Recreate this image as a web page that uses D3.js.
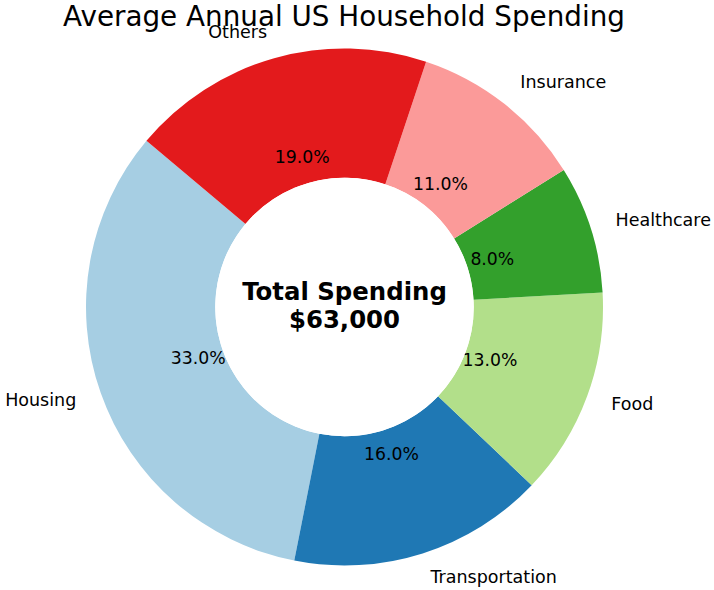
<!DOCTYPE html>
<html>
<head>
<meta charset="utf-8">
<script src="https://cdn.jsdelivr.net/npm/d3@7"></script>
<style>
  body { margin: 0; background: #fff; }
  text { font-family: "DejaVu Sans", sans-serif; fill: #000; }
</style>
</head>
<body>
<svg id="chart" width="714" height="590"></svg>
<script>
"use strict"

// data
var categories = ["Housing", "Transportation", "Food", "Healthcare", "Insurance", "Others"];
var shares     = [33, 16, 13, 8, 11, 19];
var colors     = ["#a6cee3", "#1f78b4", "#b2df8a", "#33a02c", "#fb9a99", "#e31a1c"];
var title      = "Average Annual US Household Spending";
var centerText = ["Total Spending", "$63,000"];

//
// layout
//
var W = 714, H = 590;
var cx = 344.5, cy = 307;
var R = 258.5;
var r0 = R * 0.5;
var deg = Math.PI / 180;
var start = (90 - 140) * deg;   // matplotlib startangle=140, counterclockwise

var svg = d3.select("#chart");

svg.append("text")
	.attr("x", 344)
	.attr("y", 26)
	.attr("text-anchor", "middle")
	.style("font-size", "27.8px")
	.text(title);

var g = svg.append("g").attr("transform", "translate(" + cx + "," + cy + ")");

var pie = d3.pie()
	.sort(null)
	.value(function(d) { return d; })
	.startAngle(start)
	.endAngle(start - 2 * Math.PI);

var arcs = pie(shares);

var arc = d3.arc().innerRadius(r0).outerRadius(R);

g.selectAll("path.slice")
	.data(arcs)
	.enter().append("path")
	.attr("class", "slice")
	.attr("d", arc)
	.attr("fill", function(d, i) { return colors[i]; });

function mid(d) { return (d.startAngle + d.endAngle) / 2; }

// category labels at 1.1 R
g.selectAll("text.lab")
	.data(arcs)
	.enter().append("text")
	.attr("class", "lab")
	.attr("x", function(d) { return Math.sin(mid(d)) * R * 1.1; })
	.attr("y", function(d) { return -Math.cos(mid(d)) * R * 1.1; })
	.attr("dy", "0.27em")
	.attr("text-anchor", function(d) { return Math.sin(mid(d)) > 0 ? "start" : "end"; })
	.style("font-size", "17.5px")
	.text(function(d, i) { return categories[i]; });

// percentages at 0.6 R
g.selectAll("text.pct")
	.data(arcs)
	.enter().append("text")
	.attr("class", "pct")
	.attr("x", function(d) { return Math.sin(mid(d)) * R * 0.6; })
	.attr("y", function(d) { return -Math.cos(mid(d)) * R * 0.6; })
	.attr("dy", "0.3em")
	.attr("text-anchor", "middle")
	.style("font-size", "17.3px")
	.text(function(d) { return d.value.toFixed(1) + "%"; });

// center text
g.append("circle").attr("r", r0).attr("fill", "#fff");
g.selectAll("text.center")
	.data(centerText)
	.enter().append("text")
	.attr("class", "center")
	.attr("x", 0)
	.attr("y", function(d, i) { return -7.5 + i * 28; })
	.attr("text-anchor", "middle")
	.style("font-size", "24.4px")
	.style("font-weight", "bold")
	.text(function(d) { return d; });
</script>
</body>
</html>
